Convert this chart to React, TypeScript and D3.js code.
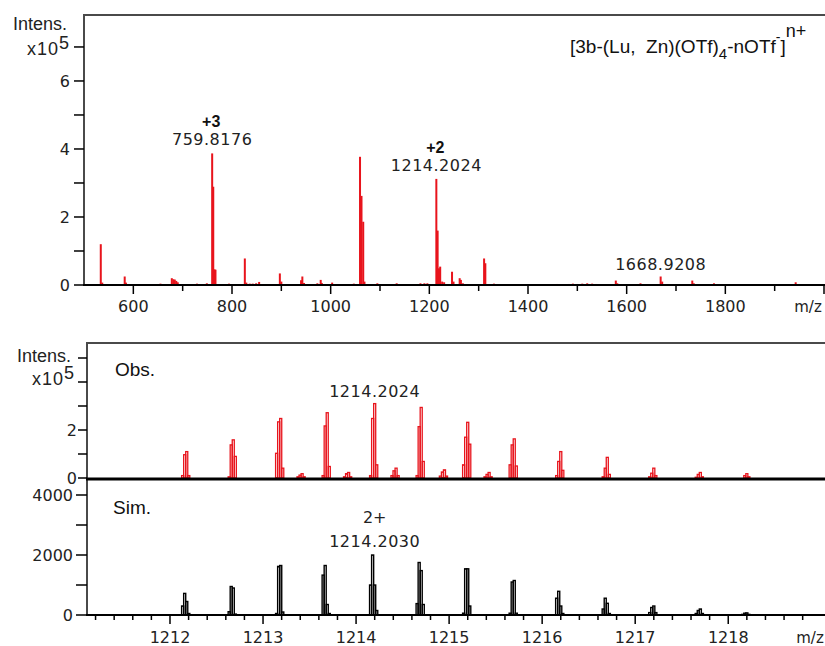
import React from "react";
import * as d3 from "d3";

// ---------- Data ----------
const topMz = [534, 537, 582.5, 585, 655, 678, 681, 684, 687, 690, 729, 749, 759.8, 762, 764.5, 766.5, 794, 826, 829, 836, 842, 849, 855, 897, 900, 940, 942.6, 946, 973, 979.8, 982, 1003, 1047, 1059.5, 1062.5, 1066, 1068.5, 1094.6, 1133.8, 1182, 1190, 1196, 1214.2, 1216.8, 1219.5, 1222, 1226, 1230, 1246, 1249, 1261.5, 1264, 1268, 1311, 1313.5, 1331, 1459, 1483, 1491, 1500, 1510, 1520, 1530, 1538, 1578, 1581, 1628, 1668.9, 1672, 1733, 1736, 1777, 1942.6];
const topInt = [1.2, 0.07, 0.25, 0.07, 0.04, 0.2, 0.17, 0.16, 0.12, 0.08, 0.04, 0.05, 3.87, 2.89, 0.46, 0.45, 0.04, 0.78, 0.07, 0.04, 0.04, 0.05, 0.09, 0.34, 0.1, 0.14, 0.25, 0.06, 0.05, 0.15, 0.06, 0.07, 0.04, 3.77, 2.62, 1.86, 0.1, 0.05, 0.05, 0.05, 0.05, 0.05, 3.12, 1.6, 0.49, 0.54, 0.1, 0.08, 0.39, 0.1, 0.2, 0.15, 0.05, 0.78, 0.64, 0.04, 0.03, 0.03, 0.04, 0.03, 0.04, 0.05, 0.04, 0.03, 0.13, 0.05, 0.05, 0.25, 0.1, 0.13, 0.05, 0.05, 0.08];

const topLabels = [
  { mz: 759.8, charge: "+3", text: "759.8176", h: 3.87 },
  { mz: 1214.2, charge: "+2", text: "1214.2024", h: 3.12 },
  { mz: 1668.9, charge: "", text: "1668.9208", h: 0.25 },
];

// Observed isotope clusters (x10^5), profile bins
const obsMz = [1212.18, 1212.68, 1213.19, 1213.42, 1213.69, 1213.92, 1214.2, 1214.43, 1214.7, 1214.95, 1215.2, 1215.43, 1215.7, 1216.2, 1216.7, 1217.2, 1217.7, 1218.2];
const obsProfile = [
  [0.1, 0.97, 1.1, 0.1],
  [0.05, 1.38, 1.59, 0.9],
  [1.03, 2.34, 2.48, 0.41],
  [0.05, 0.12, 0.18, 0.05],
  [0.1, 2.17, 2.72, 0.48],
  [0.05, 0.18, 0.23, 0.05],
  [0.1, 2.48, 3.1, 0.55],
  [0.1, 0.3, 0.41, 0.1],
  [0.1, 2.14, 2.94, 0.69],
  [0.08, 0.25, 0.34, 0.08],
  [0.55, 1.7, 2.32, 1.41],
  [0.05, 0.15, 0.23, 0.05],
  [0.55, 1.38, 1.63, 0.5],
  [0.1, 0.69, 1.1, 0.32],
  [0.05, 0.41, 0.86, 0.15],
  [0.05, 0.2, 0.41, 0.1],
  [0.03, 0.15, 0.23, 0.05],
  [0.0, 0.1, 0.18, 0.05],
];

// Simulated isotope clusters (counts)
const simMz = [1212.18, 1212.68, 1213.19, 1213.69, 1214.2, 1214.7, 1215.2, 1215.7, 1216.2, 1216.7, 1217.2, 1217.7, 1218.2];
const simProfile = [
  [300, 720, 450, 50],
  [110, 950, 900, 30],
  [50, 1620, 1650, 100],
  [1330, 1650, 350, 50],
  [1000, 2000, 1000, 150],
  [380, 1750, 1480, 350],
  [60, 1540, 1540, 300],
  [60, 1100, 1150, 60],
  [560, 790, 300, 50],
  [200, 560, 390, 50],
  [80, 250, 300, 80],
  [50, 150, 200, 50],
  [20, 60, 70, 20],
];

const topXTicks = [600, 800, 1000, 1200, 1400, 1600, 1800];
const topXMinor = [700, 900, 1100, 1300, 1500, 1700, 1900];
const topYTicks = [0, 1, 2, 3, 4, 5, 6, 7];
const topYLabels = [0, 2, 4, 6];
const obsYTicks = [0, 1, 2, 3, 4, 5];
const obsYLabels = [0, 2];
const simYTicks = [0, 1000, 2000, 3000, 4000];
const simYLabels = [0, 2000, 4000];
const botXTicks = [1212, 1213, 1214, 1215, 1216, 1217, 1218];

const RED = "#e8141c";
const FRAME = "#4a4a4a";
const TXT = "#222";
const NUMFONT = "'DejaVu Sans', Verdana, sans-serif";
const SANS = "'Liberation Sans', Arial, sans-serif";

export default function App() {
  const W = 825, H = 646;
  const xT = d3.scaleLinear().domain([500, 2000]).range([84, 824]);
  const yT = d3.scaleLinear().domain([0, 7.94]).range([285, 15]);
  const xB = d3.scaleLinear().domain([1211.108, 1219.04]).range([87, 825]);
  const yO = d3.scaleLinear().domain([0, 5.625]).range([478, 343]);
  const yS = d3.scaleLinear().domain([0, 4500]).range([615, 480]);
  const bw = 0.022;

  const minorB: number[] = d3.range(1211.2, 1219.01, 0.2).map((v) => Math.round(v * 10) / 10).filter((v) => Math.abs(v - Math.round(v)) > 0.01);

  const profileRects = (mzs: number[], profs: number[][], y: any, color: string, sw: number, key: string) =>
    mzs.map((c, i) =>
      profs[i].map((h, j) => {
        if (h <= 0) return null;
        const x0 = xB(c + (j - 2) * bw - bw / 2);
        const x1 = xB(c + (j - 2) * bw + bw / 2);
        return (
          <rect key={`${key}-${i}-${j}`} x={x0} y={y(h)} width={x1 - x0} height={y(0) - y(h)} fill="none" stroke={color} strokeWidth={sw} />
        );
      })
    );

  return (
    <svg width={W} height={H} style={{ display: "block", position: "absolute", left: 0, top: 0, background: "#fff" }}>
      <rect x={0} y={0} width={W} height={H} fill="#fff" />
      {/* ===== Top panel ===== */}
      {topMz.map((m, i) => (
        <rect key={`tp${i}`} x={xT(m) - 1} y={yT(topInt[i])} width={2} height={yT(0) - yT(topInt[i])} fill={RED} />
      ))}
      <line x1={84} y1={15} x2={825} y2={15} stroke={FRAME} strokeWidth={2} />
      <line x1={84} y1={14} x2={84} y2={286} stroke={FRAME} strokeWidth={2} />
      <line x1={83} y1={285} x2={825} y2={285} stroke="#000" strokeWidth={2} />
      {topYTicks.map((t) => (
        <line key={`tyt${t}`} x1={74} x2={84} y1={yT(t)} y2={yT(t)} stroke="#000" strokeWidth={1.5} />
      ))}
      {topYLabels.map((t) => (
        <text key={`tyl${t}`} x={70} y={yT(t) + 6} textAnchor="end" fontFamily={NUMFONT} fontSize={16} fill={TXT}>{t}</text>
      ))}
      {topXTicks.concat([2000]).map((t) => (
        <line key={`txt${t}`} x1={xT(t)} x2={xT(t)} y1={285} y2={294} stroke="#000" strokeWidth={1.5} />
      ))}
      {topXMinor.map((t) => (
        <line key={`txm${t}`} x1={xT(t)} x2={xT(t)} y1={285} y2={291} stroke="#000" strokeWidth={1.5} />
      ))}
      {topXTicks.map((t) => (
        <text key={`txl${t}`} x={xT(t)} y={312} textAnchor="middle" fontFamily={NUMFONT} fontSize={16} fill={TXT}>{t}</text>
      ))}
      <text x={808} y={312} textAnchor="middle" fontFamily={NUMFONT} fontSize={15} fill={TXT}>m/z</text>
      <text x={13} y={30} fontFamily={SANS} fontSize={18} fill={TXT}>Intens.</text>
      <text x={27} y={55} fontFamily={SANS} fontSize={18} letterSpacing={1} fill={TXT}>x10<tspan dy={-6} fontSize={18}>5</tspan></text>
      {topLabels.map((l, i) => (
        <g key={`tl${i}`}>
          {l.charge && (
            <text x={xT(l.mz) - 1} y={yT(l.h) - 26} textAnchor="middle" fontFamily={SANS} fontWeight="bold" fontSize={16} fill="#111">{l.charge}</text>
          )}
          <text x={xT(l.mz)} y={l.charge ? yT(l.h) - 8 : yT(l.h) - 6} textAnchor="middle" fontFamily={NUMFONT} fontSize={16} letterSpacing={0.5} fill={TXT}>{l.text}</text>
        </g>
      ))}
      <text x={570} y={53} fontFamily={SANS} fontSize={19} fill="#111">
        {"[3b-(Lu,\u00a0 Zn)(OTf)"}<tspan dy={6} fontSize={15}>4</tspan><tspan dy={-6}>-nOTf</tspan><tspan dy={-11} fontSize={14}>-</tspan><tspan dy={11}>]</tspan><tspan dy={-16} fontSize={18}>n+</tspan>
      </text>

      {/* ===== Obs panel ===== */}
      {profileRects(obsMz, obsProfile, yO, RED, 1.3, "o")}
      <line x1={87} y1={343} x2={825} y2={343} stroke={FRAME} strokeWidth={2} />
      <line x1={87} y1={342} x2={87} y2={616} stroke={FRAME} strokeWidth={2} />
      {obsYTicks.map((t) => (
        <line key={`oyt${t}`} x1={78} x2={87} y1={yO(t)} y2={yO(t)} stroke="#000" strokeWidth={1.5} />
      ))}
      {obsYLabels.map((t) => (
        <text key={`oyl${t}`} x={77} y={yO(t) + 6} textAnchor="end" fontFamily={NUMFONT} fontSize={16} fill={TXT}>{t}</text>
      ))}
      <text x={17} y={362} fontFamily={SANS} fontSize={18} fill={TXT}>Intens.</text>
      <text x={32} y={385} fontFamily={SANS} fontSize={18} letterSpacing={1} fill={TXT}>x10<tspan dy={-6}>5</tspan></text>
      <text x={115} y={376} fontFamily={SANS} fontSize={19} fill="#111">Obs.</text>
      <text x={xB(1214.2)} y={397} textAnchor="middle" fontFamily={NUMFONT} fontSize={16} letterSpacing={0.5} fill={TXT}>1214.2024</text>

      {/* ===== Sim panel ===== */}
      {profileRects(simMz, simProfile, yS, "#000", 1.4, "s")}
      <line x1={86} y1={479} x2={825} y2={479} stroke="#000" strokeWidth={3} />
      <line x1={86} y1={615} x2={825} y2={615} stroke="#000" strokeWidth={2} />
      {simYTicks.map((t) => (
        <line key={`syt${t}`} x1={76} x2={87} y1={yS(t)} y2={yS(t)} stroke="#000" strokeWidth={1.5} />
      ))}
      {simYLabels.map((t) => (
        <text key={`syl${t}`} x={73} y={yS(t) + 6} textAnchor="end" fontFamily={NUMFONT} fontSize={16} fill={TXT}>{t}</text>
      ))}
      <text x={113} y={514} fontFamily={SANS} fontSize={19} fill="#111">Sim.</text>
      <text x={xB(1214.2)} y={523} textAnchor="middle" fontFamily={NUMFONT} fontSize={16} fill={TXT}>2+</text>
      <text x={xB(1214.2)} y={547} textAnchor="middle" fontFamily={NUMFONT} fontSize={16} letterSpacing={0.5} fill={TXT}>1214.2030</text>
      {botXTicks.map((t) => (
        <line key={`bxt${t}`} x1={xB(t)} x2={xB(t)} y1={615} y2={624} stroke="#000" strokeWidth={1.5} />
      ))}
      {minorB.map((t) => (
        <line key={`bxm${t}`} x1={xB(t)} x2={xB(t)} y1={615} y2={620} stroke="#000" strokeWidth={1.5} />
      ))}
      {botXTicks.map((t) => (
        <text key={`bxl${t}`} x={xB(t)} y={643} textAnchor="middle" fontFamily={NUMFONT} fontSize={16} fill={TXT}>{t}</text>
      ))}
      <text x={810} y={643} textAnchor="middle" fontFamily={NUMFONT} fontSize={15} fill={TXT}>m/z</text>
    </svg>
  );
}
